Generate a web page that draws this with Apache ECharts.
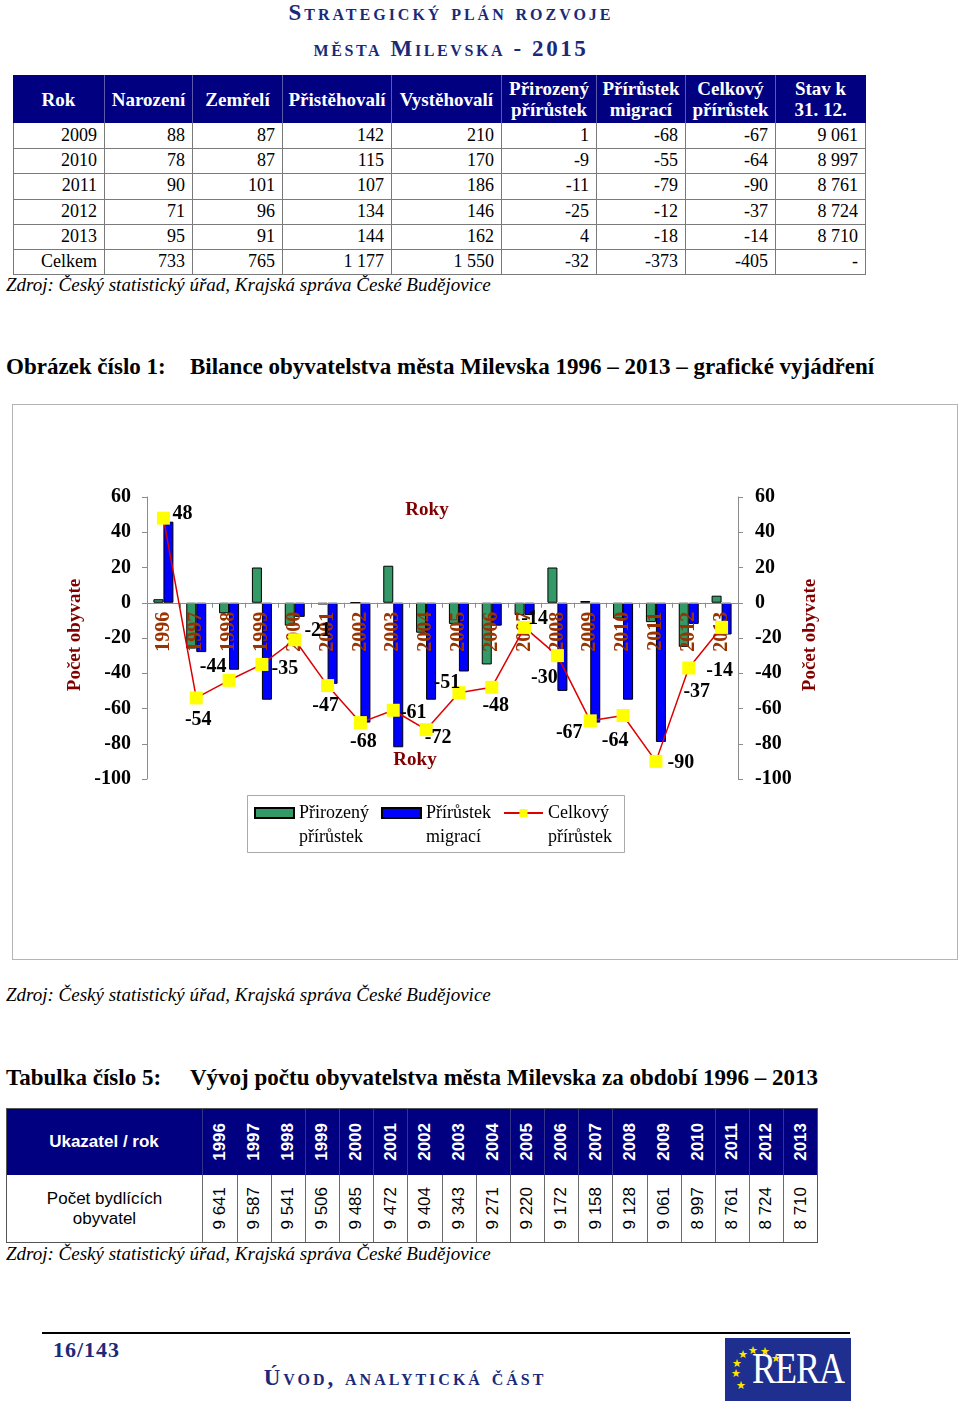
<!DOCTYPE html>
<html><head><meta charset="utf-8">
<script src="https://cdn.jsdelivr.net/npm/echarts@6/dist/echarts.min.js"></script>
<style>
html,body{margin:0;padding:0;background:#fff;}
#page{position:relative;width:960px;height:1407px;overflow:hidden;font-family:"Liberation Serif","Times New Roman",serif;color:#000;background:#fff;}
.abs{position:absolute;white-space:nowrap;}
.sc{font-variant:small-caps;font-weight:bold;color:#1b2a78;}
.cell{position:absolute;box-sizing:border-box;display:flex;align-items:center;overflow:visible;white-space:nowrap;}
.h1{background:#000080;color:#fff;font-weight:bold;font-size:19px;line-height:21px;justify-content:center;text-align:center;border-right:1px solid #5a5aa8;}
.d1{font-size:18px;justify-content:flex-end;padding-right:7px;border-right:1px solid #7a7a7a;border-bottom:1px solid #7a7a7a;}
.h2{background:#000080;color:#fff;font-family:"Liberation Sans",Arial,sans-serif;font-weight:bold;justify-content:center;border-right:1px solid #33338a;}
.d2{font-family:"Liberation Sans",Arial,sans-serif;justify-content:center;text-align:center;border-right:1px solid #6a6a6a;border-bottom:1px solid #6a6a6a;}
.vert{writing-mode:vertical-rl;transform:rotate(180deg);}
.src{font-style:italic;font-size:19px;}
.cap{font-weight:bold;font-size:23px;}
</style>
</head>
<body>
<div id="page">
  <div class="abs sc" style="left:0;width:902px;text-align:center;top:0px;font-size:23px;letter-spacing:3px;">Strategický plán rozvoje</div>
  <div class="abs sc" style="left:0;width:902px;text-align:center;top:36px;font-size:23px;letter-spacing:2.6px;">města Milevska - 2015</div>

  <div id="t1"></div>
  <div class="abs src" style="left:6px;top:274px;">Zdroj: Český statistický úřad, Krajská správa České Budějovice</div>

  <div class="abs cap" style="left:6px;top:354px;">Obrázek číslo 1:</div>
  <div class="abs cap" style="left:190px;top:354px;">Bilance obyvatelstva města Milevska 1996 – 2013 – grafické vyjádření</div>

  <div style="position:absolute;left:12px;top:404px;width:946px;height:556px;box-sizing:border-box;border:1px solid #b4b4b4;">
    <div id="chart" style="position:absolute;left:0;top:0;width:944px;height:554px;"></div>
  </div>

  <div class="abs src" style="left:6px;top:984px;">Zdroj: Český statistický úřad, Krajská správa České Budějovice</div>

  <div class="abs cap" style="left:6px;top:1065px;">Tabulka číslo 5:</div>
  <div class="abs cap" style="left:190px;top:1065px;">Vývoj počtu obyvatelstva města Milevska za období 1996 – 2013</div>

  <div id="t2"></div>
  <div class="abs src" style="left:6px;top:1243px;">Zdroj: Český statistický úřad, Krajská správa České Budějovice</div>

  <div style="position:absolute;left:42px;top:1332px;width:808px;height:2px;background:#000;"></div>
  <div class="abs" style="left:53px;top:1337px;font-size:22px;font-weight:bold;color:#1b2a78;letter-spacing:1px;">16/143</div>
  <div class="abs sc" style="left:200px;width:410px;text-align:center;top:1365px;font-size:23px;letter-spacing:3px;">Úvod, analytická část</div>

  <div id="logo" style="position:absolute;left:725px;top:1338px;width:126px;height:63px;background:#1f2f8f;overflow:hidden;">
    <div class="abs" style="left:27px;top:8px;font-size:36px;line-height:44px;color:#fff;font-family:'Liberation Serif',serif;letter-spacing:-1px;transform:scaleY(1.25);transform-origin:0 50%;">RERA</div>
  </div>
</div>
<script>
// ---------- Table 1 data ----------
const t1Headers = ['Rok','Narození','Zemřelí','Přistěhovalí','Vystěhovalí','Přirozený<br>přírůstek','Přírůstek<br>migrací','Celkový<br>přírůstek','Stav k<br>31. 12.'];
const t1Rows = ['2009','2010','2011','2012','2013','Celkem'];
const births     = [88, 78, 90, 71, 95, 733];
const deaths     = [87, 87, 101, 96, 91, 765];
const immigrants = [142, 115, 107, 134, 144, 1177];
const emigrants  = [210, 170, 186, 146, 162, 1550];
const naturalInc = [1, -9, -11, -25, 4, -32];
const migrationInc = [-68, -55, -79, -12, -18, -373];
const totalInc   = [-67, -64, -90, -37, -14, -405];
const stateEnd   = [9061, 8997, 8761, 8724, 8710, null];

// ---------- Chart data ----------
const years = ['1996','1997','1998','1999','2000','2001','2002','2003','2004','2005','2006','2007','2008','2009','2010','2011','2012','2013'];
const natural   = [2, -26, -6, 20, -13, -1, 0, 21, -17, -12, -35, -7, 20, 1, -9, -11, -25, 4];
const migration = [46, -28, -38, -55, -8, -46, -68, -82, -55, -39, -13, -7, -50, -68, -55, -79, -12, -18];
const total     = [48, -54, -44, -35, -21, -47, -68, -61, -72, -51, -48, -14, -30, -67, -64, -90, -37, -14];
const yTicks = {min: -100, max: 60, step: 20};

// ---------- Table 2 data ----------
const popYears = years;
const population = [9641, 9587, 9541, 9506, 9485, 9472, 9404, 9343, 9271, 9220, 9172, 9158, 9128, 9061, 8997, 8761, 8724, 8710];

function fmt(n){ if(n===null) return '-'; const s=String(Math.abs(n)).replace(/\B(?=(\d{3})+(?!\d))/g,' '); return (n<0?'-':'')+s; }
function cell(parent, x, y, w, h, html, cls, extra){
  const d=document.createElement('div'); d.className='cell '+cls;
  d.style.left=x+'px'; d.style.top=y+'px'; d.style.width=w+'px'; d.style.height=h+'px';
  if(extra) Object.assign(d.style, extra);
  d.innerHTML=html; parent.appendChild(d); return d;
}
// Table 1 layout
(function(){
  const page=document.getElementById('page');
  const xs=[13,105,193,283,392,502,597,686,776,866];
  const hTop=75, hBot=123, rowH=25.2;
  for(let c=0;c<9;c++) cell(page, xs[c], hTop, xs[c+1]-xs[c], hBot-hTop, t1Headers[c], 'h1', c===8?{borderRight:'1px solid #000080'}:null);
  const cols=[t1Rows, births, deaths, immigrants, emigrants, naturalInc, migrationInc, totalInc, stateEnd];
  for(let r=0;r<t1Rows.length;r++){
    for(let c=0;c<9;c++){
      const v = c===0 ? cols[c][r] : fmt(cols[c][r]);
      cell(page, xs[c], hBot+r*rowH, xs[c+1]-xs[c], rowH+1, v, 'd1', c===0?{borderLeft:'1px solid #7a7a7a'}:null);
    }
  }
})();
// Table 2 layout
(function(){
  const page=document.getElementById('page');
  const x0=6, x1=203, x2=818, hTop=1108, hBot=1175, bBot=1243;
  const cw=(x2-x1)/popYears.length;
  cell(page, x0, hTop, x1-x0, hBot-hTop, 'Ukazatel / rok', 'h2', {fontSize:'17px'});
  cell(page, x0, hBot, x1-x0, bBot-hBot, 'Počet bydlících<br>obyvatel', 'd2', {fontSize:'17px', lineHeight:'20px', borderLeft:'1px solid #6a6a6a'});
  for(let i=0;i<popYears.length;i++){
    cell(page, x1+i*cw, hTop, cw+0.5, hBot-hTop, '<span class="vert">'+popYears[i]+'</span>', 'h2', {fontSize:'17px'});
    cell(page, x1+i*cw, hBot, cw+0.5, bBot-hBot, '<span class="vert">'+fmt(population[i])+'</span>', 'd2', {fontSize:'17px'});
  }
  const f=document.createElement('div');
  Object.assign(f.style,{position:'absolute',left:x0+'px',top:hTop+'px',width:(x2-x0)+'px',height:(bBot-hTop)+'px',border:'1px solid #555',boxSizing:'border-box'});
  page.appendChild(f);
})();
// Logo stars
(function(){
  const logo=document.getElementById('logo');
  const stars=[[18,17],[28,13],[40,14],[51,21],[12,26],[11,36],[16,48]];
  stars.forEach(p=>{const s=document.createElement('div'); s.className='abs'; s.textContent='★';
    Object.assign(s.style,{left:(p[0]-5)+'px',top:(p[1]-7)+'px',fontSize:'11px',lineHeight:'14px',color:'#ffe600',fontFamily:'DejaVu Sans'}); logo.appendChild(s);});
})();

// ---------- Chart ----------
const serif='"Liberation Serif","Times New Roman",serif';
const labelOffsets=[[19,-4],[2,22],[-16,-13],[23,4],[23,-9],[-2,20],[3,19],[20,3],[12,8],[-12,-10],[4,18],[10,-9],[-13,22],[-21,12],[-8,25],[25,1],[8,24],[-2,43]];
const gridTop=92, gridH=282;
// distance from the bottom edge of the grid up to the zero line, via the value range
const zeroFromBottom = gridH * (0 - yTicks.min) / (yTicks.max - yTicks.min);
const chart=echarts.init(document.getElementById('chart'));
const axisColor='#8c8c8c';
function yAxisOpt(pos, margin){
  return {type:'value', position:pos, min:yTicks.min, max:yTicks.max, interval:yTicks.step, z:3,
    splitLine:{show:false},
    axisLine:{show:true, lineStyle:{color:axisColor, width:1}},
    axisTick:{show:true, length:5, lineStyle:{color:axisColor}},
    axisLabel:{margin:margin, color:'#000', fontFamily:serif, fontWeight:'bold', fontSize:20}};
}
chart.setOption({
  animation:false,
  grid:{left:134, right:219, top:gridTop, height:gridH, containLabel:false},
  xAxis:{type:'category', data:years, z:3,
    axisLine:{onZero:true, lineStyle:{color:axisColor, width:1}},
    axisTick:{show:true, length:5, lineStyle:{color:axisColor}},
    axisLabel:{rotate:90, margin:-(zeroFromBottom-9), color:'#993300', fontFamily:serif, fontWeight:'bold', fontSize:20, hideOverlap:false}},
  yAxis:[yAxisOpt('left',16), yAxisOpt('right',17)],
  legend:{left:241, top:372, padding:0, itemWidth:39, itemHeight:10, itemGap:12,
    formatter:n=>'\n'+n.replace(' ','\n'),
    textStyle:{fontFamily:serif, fontSize:18, lineHeight:24, color:'#000'},
    data:[{name:'Přirozený přírůstek', icon:'rect'},{name:'Přírůstek migrací', icon:'rect'},{name:'Celkový přírůstek'}]},
  series:[
    {name:'Přirozený přírůstek', type:'bar', data:natural, barWidth:10, barGap:'0%', z:2,
      itemStyle:{color:'#339966', borderColor:'#000', borderWidth:1}},
    {name:'Přírůstek migrací', type:'bar', data:migration, barWidth:10, barGap:'0%', z:2,
      itemStyle:{color:'#0000ff', borderColor:'#000', borderWidth:1}},
    {name:'Celkový přírůstek', type:'line', z:4, symbol:'rect', symbolSize:13,
      data:total.map((v,i)=>({value:v, label:{offset:labelOffsets[i]}})),
      itemStyle:{color:'#ffff00'}, lineStyle:{color:'#dd0000', width:1.5},
      label:{show:true, position:'inside', color:'#000', fontFamily:serif, fontWeight:'bold', fontSize:20}}
  ],
  graphic:[
    {type:'rect', shape:{x:234.5, y:390.5, width:377, height:57}, style:{fill:'none', stroke:'#aaaaaa', lineWidth:1}, z:0},
    {type:'text', x:414, y:105, style:{text:'Roky', fill:'#800000', fontFamily:serif, fontWeight:'bold', fontSize:19, align:'center', verticalAlign:'middle'}},
    {type:'text', x:402, y:355, style:{text:'Roky', fill:'#800000', fontFamily:serif, fontWeight:'bold', fontSize:19, align:'center', verticalAlign:'middle'}},
    {type:'text', x:62, y:230, rotation:Math.PI/2, style:{text:'Počet obyvate', fill:'#800000', fontFamily:serif, fontWeight:'bold', fontSize:19, align:'center', verticalAlign:'middle'}},
    {type:'text', x:797, y:230, rotation:Math.PI/2, style:{text:'Počet obyvate', fill:'#800000', fontFamily:serif, fontWeight:'bold', fontSize:19, align:'center', verticalAlign:'middle'}}
  ]
});
</script>
</body></html>
